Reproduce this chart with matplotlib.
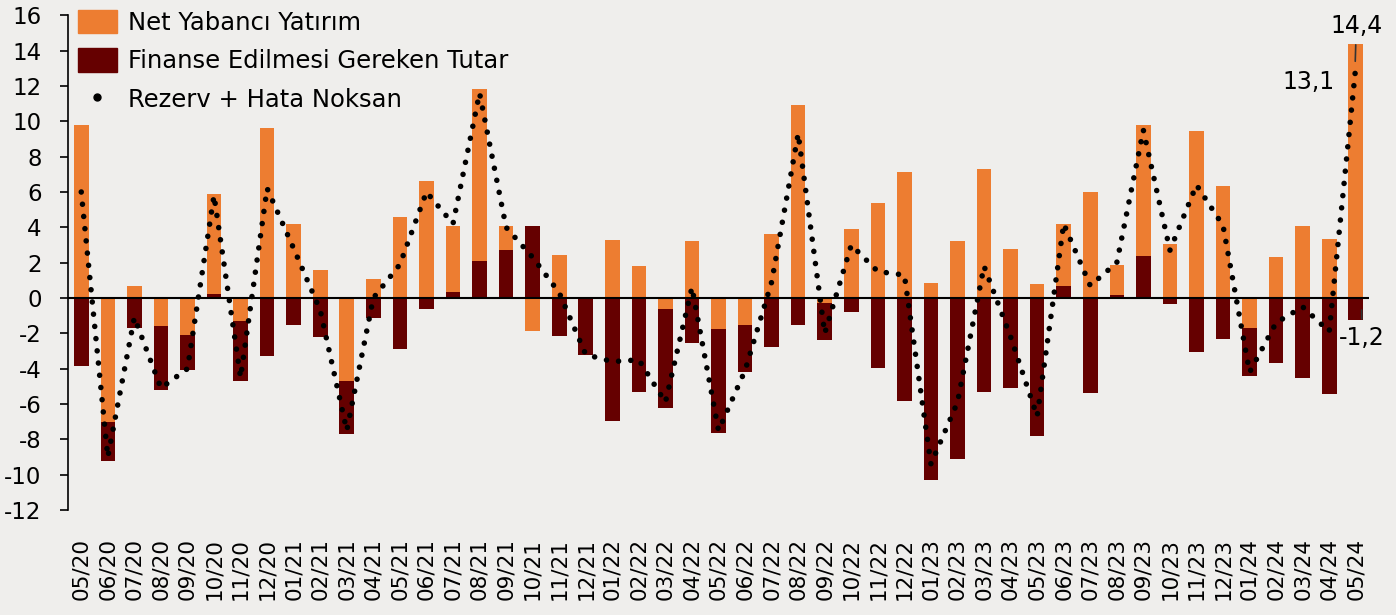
import numpy as np
import matplotlib
matplotlib.use('Agg')
import matplotlib.pyplot as plt
from matplotlib.patches import Patch
from matplotlib.lines import Line2D

plt.rcParams['font.family'] = ['DejaVu Sans']
plt.rcParams['axes.unicode_minus'] = False

# months 05/20 .. 05/24
months = ['05/20', '06/20', '07/20', '08/20', '09/20', '10/20', '11/20', '12/20',
          '01/21', '02/21', '03/21', '04/21', '05/21', '06/21', '07/21', '08/21',
          '09/21', '10/21', '11/21', '12/21', '01/22', '02/22', '03/22', '04/22',
          '05/22', '06/22', '07/22', '08/22', '09/22', '10/22', '11/22', '12/22',
          '01/23', '02/23', '03/23', '04/23', '05/23', '06/23', '07/23', '08/23',
          '09/23', '10/23', '11/23', '12/23', '01/24', '02/24', '03/24', '04/24',
          '05/24']

# Net Yabancı Yatırım
net_yab = [9.8, -7.0, 0.7, -1.6, -2.1, 5.7, -1.3, 9.6,
           4.2, 1.6, -4.7, 1.1, 4.6, 6.6, 3.7, 9.75,
           1.35, -1.85, 2.45, 0.0, 3.3, 1.8, -0.65, 3.2,
           -1.75, -1.55, 3.65, 10.9, -0.3, 3.9, 5.4, 7.15,
           0.85, 3.25, 7.3, 2.8, 0.8, 3.5, 6.0, 1.7,
           7.4, 3.05, 9.45, 6.35, -1.7, 2.3, 4.1, 3.35,
           14.4]

# Finanse Edilmesi Gereken Tutar
finanse = [-3.85, -2.25, -1.7, -3.6, -1.95, 0.2, -3.4, -3.3,
           -1.5, -2.2, -3.0, -1.15, -2.9, -0.6, 0.35, 2.1,
           2.7, 4.1, -2.15, -3.25, -6.95, -5.3, -5.55, -2.55,
           -5.9, -2.65, -2.75, -1.5, -2.05, -0.8, -3.95, -5.85,
           -10.3, -9.1, -5.3, -5.1, -7.8, 0.7, -5.4, 0.17,
           2.4, -0.35, -3.05, -2.3, -2.7, -3.7, -4.55, -5.45,
           -1.22]

# Rezerv + Hata Noksan
rezerv = [6.0, -9.0, -1.1, -5.1, -4.0, 5.8, -4.5, 6.2,
          2.8, -0.7, -7.5, 0.0, 1.9, 6.0, 4.2, 11.6,
          4.0, 2.3, 0.3, -3.2, -3.6, -3.5, -5.9, 0.6,
          -7.5, -4.1, 0.9, 9.3, -2.0, 3.0, 1.5, 1.3,
          -9.4, -5.9, 1.8, -2.2, -6.7, 4.2, 0.7, 2.0,
          9.5, 2.7, 6.4, 4.1, -4.2, -1.4, -0.5, -1.9,
          13.1]

ORANGE = '#ED7D31'
DARKRED = '#650000'
BG = '#EFEEEC'

nyy = np.array(net_yab)
fin = np.array(finanse)
x = np.arange(len(months))

# stacked: positives -> finanse at the bottom, negatives -> net yatırım near zero
fin_bottom = np.where(fin >= 0, 0, np.where(nyy < 0, nyy, 0))
nyy_bottom = np.where(nyy >= 0, np.where(fin > 0, fin, 0), 0)

fig = plt.figure(figsize=(13.96, 6.15), dpi=100, facecolor=BG)
ax = fig.add_axes([0.0487, 0.1707, 0.932, 0.8044])
ax.set_facecolor('none')

w = 0.55
ax.bar(x, fin, w, bottom=fin_bottom, color=DARKRED, zorder=2)
ax.bar(x, nyy, w, bottom=nyy_bottom, color=ORANGE, zorder=2)
ax.axhline(0, color='black', lw=1.5, zorder=3)
ax.plot(x, rezerv, color='black', lw=4.0, linestyle=(0, (0.01, 2.2)),
        dash_capstyle='round', solid_capstyle='round', zorder=4)

ax.set_xlim(-0.5, len(months) - 0.5)
ax.set_ylim(-12, 16)
ax.set_yticks(np.arange(-12, 17, 2))
ax.set_yticklabels([str(v) for v in range(-12, 17, 2)], fontsize=16.5)
ax.set_xticks(x)
ax.set_xticklabels(months, rotation=90, fontsize=15.5)
ax.tick_params(axis='x', length=0, pad=20)
ax.tick_params(axis='y', length=6, width=1.2, direction='out', pad=13)

for s in ['top', 'right', 'bottom']:
    ax.spines[s].set_visible(False)
ax.spines['left'].set_linewidth(1.2)

# labels for the last month
ax.annotate('14,4', xy=(47.98, 13.4), xytext=(48.02, 15.4), fontsize=17,
            ha='center', va='center',
            arrowprops=dict(arrowstyle='-', lw=1.2, color='#333333', shrinkA=3, shrinkB=0))
ax.text(47.2, 12.23, '13,1', fontsize=17, ha='right', va='center')
ax.annotate('-1,2', xy=(48.22, -0.68), xytext=(48.24, -2.26), fontsize=17,
            ha='center', va='center',
            arrowprops=dict(arrowstyle='-', lw=1.2, color='#333333', shrinkA=3, shrinkB=0))

handles = [Patch(color=ORANGE), Patch(color=DARKRED),
           Line2D([], [], color='black', marker='o', markersize=5, linestyle='none')]
labels = ['Net Yabancı Yatırım', 'Finanse Edilmesi Gereken Tutar', 'Rezerv + Hata Noksan']
ax.legend(handles, labels, loc='upper left', bbox_to_anchor=(78 / 1396, 1 - 10 / 615),
          bbox_transform=fig.transFigure, frameon=False, fontsize=17.5,
          handlelength=1.6, handleheight=1.1, handletextpad=0.45,
          labelspacing=0.55, borderpad=0, borderaxespad=0, numpoints=1)

fig.savefig('out.png', dpi=100, facecolor=BG)
